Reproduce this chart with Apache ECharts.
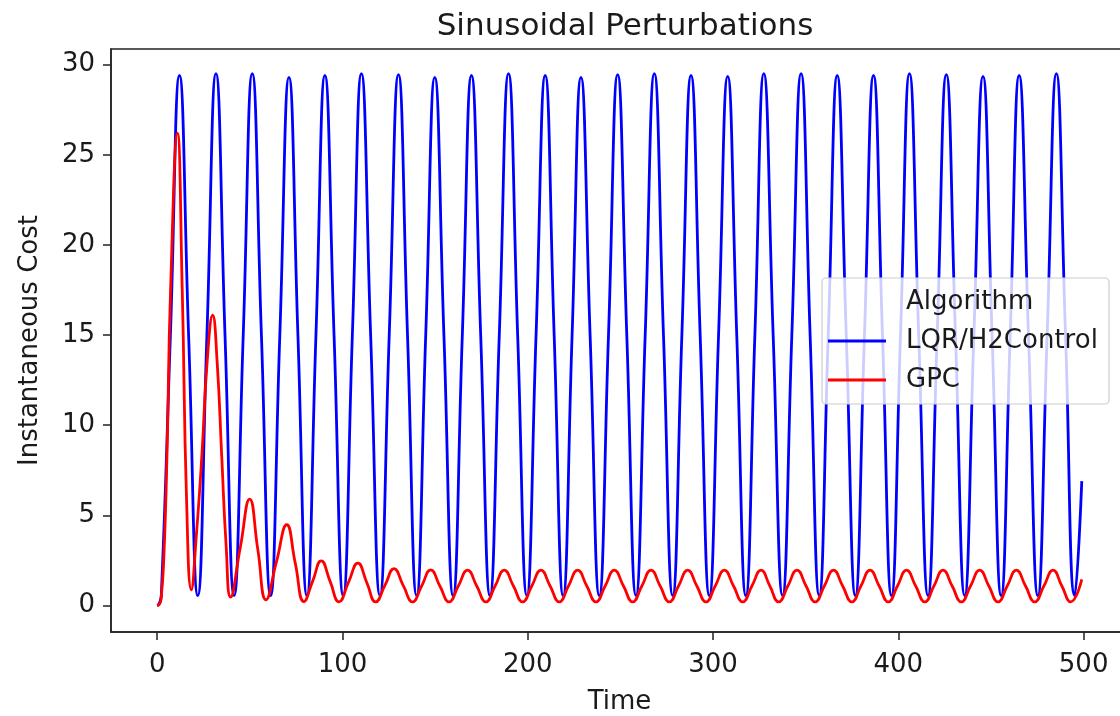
<!DOCTYPE html>
<html>
<head>
<meta charset="utf-8">
<script src="https://cdn.jsdelivr.net/npm/echarts@6/dist/echarts.min.js"></script>
<style>
  html, body { margin: 0; padding: 0; background: #ffffff; }
  #chart { width: 1120px; height: 716px; }
</style>
</head>
<body>
<div id="chart"></div>
<script>
// ---- data ----
const chartTitle = 'Sinusoidal Perturbations';
const xAxisTitle = 'Time';
const yAxisTitle = 'Instantaneous Cost';
const legendTitle = 'Algorithm';
const seriesNames = ['LQR/H2Control', 'GPC'];
const xTicks = [0, 100, 200, 300, 400, 500];
const yTicks = [0, 5, 10, 15, 20, 25, 30];

// [time, cost] key points (troughs, half-way points, peaks)
const lqrCost = [
  [0,0],[1,0.1],[2.2,0.55],[7.1,14.95],[12.0,29.4],[16.95,14.95],[21.9,0.55],
  [26.8,14.95],[31.7,29.5],[36.6,14.95],[41.5,0.55],
  [46.4,14.95],[51.3,29.5],[56.25,14.95],[61.2,0.55],
  [66.15,14.95],[71.1,29.3],[75.95,14.95],[80.8,0.55],
  [85.65,14.95],[90.5,29.4],[95.45,14.95],[100.4,0.55],
  [105.3,14.95],[110.2,29.5],[115.2,14.95],[120.2,0.55],
  [125.2,14.95],[130.2,29.45],[135.1,14.95],[140.0,0.55],
  [144.9,14.95],[149.8,29.3],[154.75,14.95],[159.7,0.55],
  [164.65,14.95],[169.6,29.4],[174.6,14.95],[179.6,0.55],
  [184.6,14.95],[189.6,29.5],[194.55,14.95],[199.5,0.55],
  [204.45,14.95],[209.4,29.4],[214.25,14.95],[219.1,0.55],
  [223.9,14.95],[228.7,29.3],[233.65,14.95],[238.6,0.55],
  [243.55,14.95],[248.5,29.45],[253.45,14.95],[258.4,0.55],
  [263.35,14.95],[268.3,29.5],[273.25,14.95],[278.2,0.55],
  [283.15,14.95],[288.1,29.4],[293.05,14.95],[298.0,0.55],
  [302.95,14.95],[307.9,29.35],[312.8,14.95],[317.7,0.55],
  [322.55,14.95],[327.4,29.5],[332.45,14.95],[337.5,0.55],
  [342.5,14.95],[347.5,29.5],[352.4,14.95],[357.3,0.55],
  [362.15,14.95],[367.0,29.4],[371.9,14.95],[376.8,0.55],
  [381.7,14.95],[386.6,29.4],[391.45,14.95],[396.3,0.55],
  [401.15,14.95],[406.0,29.5],[411.0,14.95],[416.0,0.55],
  [420.95,14.95],[425.9,29.45],[430.85,14.95],[435.8,0.55],
  [440.75,14.95],[445.7,29.35],[450.6,14.95],[455.5,0.55],
  [460.35,14.95],[465.2,29.4],[470.25,14.95],[475.3,0.55],
  [480.3,14.95],[485.3,29.5],[490.25,14.95],[495.2,0.55],
  [499,6.9]
];

const gpcCost = [
  [0,0],[1,0.05],[2,0.3],[3.5,2.5],[5.3,8.5],[7.2,17.5],[10.9,26.2],[13.5,17.5],[15.8,6.0],[18.4,0.87],
  [21.2,4.0],[24.2,8.5],[27.0,13.6],[29.9,16.1],[32.4,13.4],[34.8,8.3],[37.2,3.3],[39.6,0.47],
  [44.8,3.2],[49.9,5.9],[54.3,3.1],[58.7,0.32],
  [64.3,2.4],[69.9,4.48],[74.5,2.35],[79.2,0.22],
  [83.9,1.35],[88.5,2.48],[93.3,1.34],[98.1,0.2],
  [103.2,1.28],[108.3,2.35],[113.1,1.27],[117.9,0.2],
  [122.9,1.12],[127.8,2.04],[132.8,1.1],[137.8,0.2],
  [142.7,1.08],[147.6,1.98],[152.55,1.08],[157.5,0.2],
  [162.5,1.08],[167.5,1.96],[172.45,1.08],[177.4,0.2],
  [182.35,1.08],[187.3,1.96],[192.25,1.08],[197.2,0.2],
  [202.15,1.08],[207.1,1.96],[212.05,1.08],[217.0,0.2],
  [221.95,1.08],[226.9,1.96],[231.85,1.08],[236.8,0.2],
  [241.75,1.08],[246.7,1.96],[251.65,1.08],[256.6,0.2],
  [261.55,1.08],[266.5,1.96],[271.45,1.08],[276.4,0.2],
  [281.35,1.08],[286.3,1.96],[291.25,1.08],[296.2,0.2],
  [301.15,1.08],[306.1,1.96],[311.05,1.08],[316.0,0.2],
  [320.95,1.08],[325.9,1.96],[330.65,1.08],[335.4,0.2],
  [340.35,1.08],[345.3,1.96],[350.2,1.08],[355.1,0.2],
  [360.05,1.08],[365.0,1.96],[369.95,1.08],[374.9,0.2],
  [379.8,1.08],[384.7,1.96],[389.65,1.08],[394.6,0.2],
  [399.5,1.08],[404.4,1.96],[409.35,1.08],[414.3,0.2],
  [419.2,1.08],[424.1,1.96],[429.05,1.08],[434.0,0.2],
  [438.95,1.08],[443.9,1.96],[448.85,1.08],[453.8,0.2],
  [458.75,1.08],[463.7,1.96],[468.65,1.08],[473.6,0.2],
  [478.55,1.08],[483.5,1.96],[488.25,1.08],[493.0,0.2],
  [499,1.45]
];

// ---- chart ----
const FONT = 'DejaVu Sans';
const TEXT = '#1a1a1a';
const chart = echarts.init(document.getElementById('chart'), null, { renderer: 'canvas' });

chart.setOption({
  animation: false,
  backgroundColor: '#ffffff',
  textStyle: { fontFamily: FONT },
  title: {
    text: chartTitle,
    left: 620,
    top: 6,
    textAlign: 'center',
    textStyle: { fontFamily: FONT, fontSize: 31, fontWeight: 'normal', color: TEXT }
  },
  grid: {
    left: 111, top: 49, bottom: 84, right: -8,
    show: true, borderColor: '#222', borderWidth: 1.5,
    outerBoundsMode: 'none', containLabel: false
  },
  xAxis: {
    type: 'value',
    min: -24.95, max: 523.95,
    name: xAxisTitle, nameLocation: 'middle', nameGap: 57,
    nameTextStyle: { fontFamily: FONT, fontSize: 26, color: TEXT },
    splitLine: { show: false },
    axisLine: { show: true, onZero: false, lineStyle: { color: '#222', width: 1.5 } },
    axisTick: { show: true, customValues: xTicks, length: 8, lineStyle: { color: '#222', width: 1.5 } },
    axisLabel: { customValues: xTicks, margin: 20, fontFamily: FONT, fontSize: 26, color: TEXT }
  },
  yAxis: {
    type: 'value',
    min: -1.47, max: 30.87,
    name: yAxisTitle, nameLocation: 'middle', nameGap: 68, nameRotate: 90,
    nameTextStyle: { fontFamily: FONT, fontSize: 26, color: TEXT },
    splitLine: { show: false },
    axisLine: { show: true, onZero: false, lineStyle: { color: '#222', width: 1.5 } },
    axisTick: { show: true, customValues: yTicks, length: 8, lineStyle: { color: '#222', width: 1.5 } },
    axisLabel: { customValues: yTicks, margin: 16, fontFamily: FONT, fontSize: 26, color: TEXT }
  },
  legend: {
    orient: 'vertical',
    left: 828, top: 326,
    z: 100,
    padding: 0,
    itemWidth: 58, itemHeight: 3, itemGap: 9,
    icon: 'rect',
    textStyle: { fontFamily: FONT, fontSize: 26, color: TEXT, lineHeight: 30, padding: [0, 0, 0, 15] },
    data: seriesNames
  },
  graphic: [
    {
      type: 'rect', z: 90,
      shape: { x: 822, y: 278, width: 287, height: 126, r: 4 },
      style: { fill: 'rgba(255,255,255,0.8)', stroke: '#cccccc', lineWidth: 1.2 }
    },
    {
      type: 'text', z: 95,
      x: 906, y: 302,
      style: { text: legendTitle, font: '26px "DejaVu Sans"', fill: TEXT, verticalAlign: 'middle', align: 'left' }
    }
  ],
  series: [
    {
      name: seriesNames[0], type: 'line', data: lqrCost,
      smooth: 0.5, showSymbol: false, symbol: 'none',
      color: '#0000ff',
      lineStyle: { color: '#0000ff', width: 2.8 }
    },
    {
      name: seriesNames[1], type: 'line', data: gpcCost,
      smooth: 0.5, showSymbol: false, symbol: 'none',
      color: '#ff0000',
      lineStyle: { color: '#ff0000', width: 2.8 }
    }
  ]
});
</script>
</body>
</html>
